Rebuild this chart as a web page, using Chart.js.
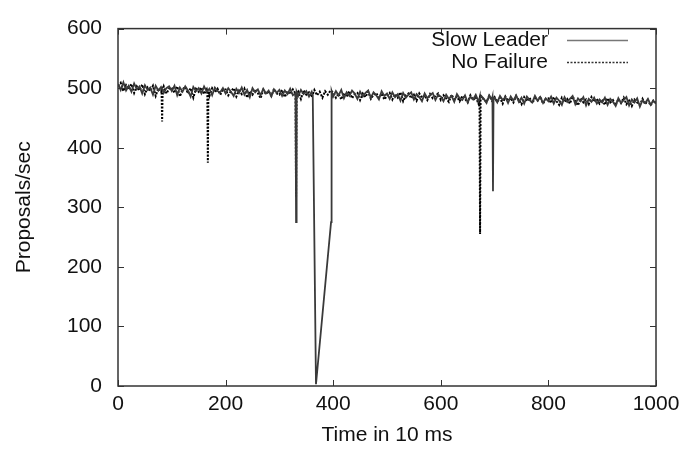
<!DOCTYPE html>
<html>
<head>
<meta charset="utf-8">
<script src="https://cdn.jsdelivr.net/npm/chart.js@4.4.1/dist/chart.umd.min.js"></script>
<style>
  body { margin: 0; background: #fff; }
</style>
</head>
<body>
<canvas id="chart" width="686" height="450"></canvas>
<script>
// sampled every 5 time units (0..1000), null = no sample there
var sampleStep = 5;

var slowLeaderRate = [
  507, 497, 510, 496, 504, 494, 508, 498, 503, 491, 505, 497, 501, 489, 504, 496, 502, 492, 500, 503,
  495, 504, 488, 501, 494, 503, 496, 486, 502, 495, 500, 491, 503, 494, 499, 488, 501, 495, 493, 500,
  491, 500, 494, 487, 499, 492, 501, 489, 497, 485, 500, 493, 498, 488, 499, 491, 496, 486, 498, 492,
  497, 487, 496, 490, 499, 488, 492, 487, 497, 490, 495, 486, 494, null, null, null, null, null, null, null,
  486, 495, 488, 497, 483, 493, 487, 496, 491, 482, 494, 486, 492, 496, 484, 493, 488, 481, 495, 487,
  491, 482, 493, 485, 490, 479, 492, 484, 489, 493, 481, 490, 485, 478, 491, 483, 488, 492, 480, 489,
  486, 478, 489, 482, 487, 477, 490, 483, 480, 488, 476, 486, 481, 489, 478, 487, 482, 475, 488, 481,
  484, 476, 487, 480, 485, 475, 486, 479, 488, 477, 484, 474, 486, 480, 476, 487, 479, 485, 475, 483,
  478, 486, 474, 484, 479, 472, 485, 477, 482, 487, 473, 483, 478, 485, 471, 482, 477, 484, 474, 481,
  476, 484, 472, 482, 477, 470, 483, 475, 480, 485, 471, 481, 476, 483, 469, 480, 475, 482, 472, 479,
  474
];
var slowLeaderDipTime = [331, 332, 361, 362, 368, 396, 397, 696, 697, 698];
var slowLeaderDipRate = [275, 494, 490, 487, 3, 275, 495, 485, 327, 484];

var noFailureRate = [
  504, 509, 495, 505, 498, 507, 492, 503, 496, 506, 490, 501, 495, 504, 487, 500, 494, 503, 491, 499,
  501, 492, 503, 486, 498, 502, 491, 500, 484, 499, 494, 501, 490, 498, 487, 500, 493, 499, 489, 497,
  498, 488, 495, 500, 486, 496, 490, 499, 484, 495, 489, 498, 492, 483, 497, 490, 495, 487, 499, 491,
  489, 497, 485, 495, 490, 498, 491, 494, 482, 496, 489, 493, 485, 497, 488, 494, 484, 495, 489, 496,
  493, 484, 491, 481, 492, 486, 495, 483, 490, 492, 480, 491, 485, 494, 482, 489, 492, 484, 491, 481,
  487, 492, 481, 490, 484, 493, 478, 488, 491, 483, 489, 479, 491, 484, 488, 480, 490, 483, 487, 491,
  480, 488, 483, 477, 489, 481, 486, 478, 487, 482, 476, 488, 480, 485, 474, 486, 481, 477, 487, 479,
  485, 477, 484, 474, 486, 479, 483, 476, 487, 480, 473, 485, 478, 484, 475, 483, 479, 486, 474, 482,
  483, 475, 485, 478, 472, 484, 477, 482, 474, 486, 478, 471, 483, 476, 481, 473, 485, 477, 482, 474,
  481, 472, 483, 476, 480, 471, 482, 475, 484, 473, 479, 470, 481, 476, 472, 482, 473, 480, 471, 479,
  475
];
var noFailureDipTime = [81, 82, 83, 166, 167, 168, 331, 332, 672, 673, 674];
var noFailureDipRate = [496, 444, 497, 494, 375, 495, 318, 490, 482, 255, 481];

var xTicks = [0, 200, 400, 600, 800, 1000];
var yTicks = [0, 100, 200, 300, 400, 500, 600];
var seriesNames = ['Slow Leader', 'No Failure'];

function buildPoints(rates, dipTimes, dipRates) {
  var pts = [];
  for (var i = 0; i < rates.length; i++) {
    if (rates[i] !== null) pts.push({x: i * sampleStep, y: rates[i]});
  }
  for (var j = 0; j < dipTimes.length; j++) {
    pts.push({x: dipTimes[j], y: dipRates[j]});
  }
  pts.sort(function(a, b) { return a.x - b.x; });
  return pts;
}

var FONT = 'Liberation Sans, Arial, sans-serif';

// box, inward ticks and key like the gnuplot original
var framePlugin = {
  id: 'frame',
  afterDraw: function(chart) {
    var ctx = chart.ctx;
    var a = chart.chartArea;
    var xs = chart.scales.x, ys = chart.scales.y;
    ctx.save();
    ctx.strokeStyle = '#333';
    ctx.lineWidth = 1.5;
    ctx.strokeRect(a.left, a.top, a.right - a.left, a.bottom - a.top);
    ctx.lineWidth = 1;
    ctx.beginPath();
    xTicks.forEach(function(v) {
      var px = Math.round(xs.getPixelForValue(v)) + 0.5;
      ctx.moveTo(px, a.bottom); ctx.lineTo(px, a.bottom - 6);
      ctx.moveTo(px, a.top); ctx.lineTo(px, a.top + 6);
    });
    yTicks.forEach(function(v) {
      var py = Math.round(ys.getPixelForValue(v)) + 0.5;
      ctx.moveTo(a.left, py); ctx.lineTo(a.left + 6, py);
      ctx.moveTo(a.right, py); ctx.lineTo(a.right - 6, py);
    });
    ctx.stroke();

    // key
    ctx.font = '21px ' + FONT;
    ctx.textAlign = 'right';
    ctx.textBaseline = 'middle';
    chart.data.datasets.forEach(function(ds, i) {
      var y = 40 + i * 22;
      ctx.fillStyle = '#111';
      ctx.fillText(ds.label, 548, y);
      ctx.strokeStyle = i === 0 ? '#777' : '#333';
      ctx.lineWidth = 1.5;
      ctx.setLineDash(ds.borderDash || []);
      ctx.beginPath();
      ctx.moveTo(567, y + 0.5);
      ctx.lineTo(628, y + 0.5);
      ctx.stroke();
      ctx.setLineDash([]);
    });
    ctx.restore();
  }
};

function plainTick(v) { return String(v); }

var chart = new Chart(document.getElementById('chart').getContext('2d'), {
  type: 'line',
  data: {
    datasets: [
      {
        label: seriesNames[0],
        data: buildPoints(slowLeaderRate, slowLeaderDipTime, slowLeaderDipRate),
        borderColor: '#3a3a3a',
        borderWidth: 1.8,
        pointRadius: 0,
        tension: 0,
        fill: false
      },
      {
        label: seriesNames[1],
        data: buildPoints(noFailureRate, noFailureDipTime, noFailureDipRate),
        borderColor: '#000',
        borderWidth: 2,
        borderDash: [2, 1.5],
        pointRadius: 0,
        tension: 0,
        fill: false
      }
    ]
  },
  options: {
    responsive: false,
    animation: false,
    devicePixelRatio: 1,
    layout: { padding: { top: 24, right: 30, bottom: 0, left: 0 } },
    plugins: { legend: { display: false }, tooltip: { enabled: false } },
    scales: {
      x: {
        type: 'linear',
        min: 0, max: 1000,
        afterBuildTicks: function(s) { s.ticks = xTicks.map(function(v) { return {value: v}; }); },
        afterFit: function(s) { s.height = 64; },
        grid: { drawOnChartArea: false, drawTicks: false },
        border: { display: false },
        ticks: { padding: 6, color: '#111', font: { family: FONT, size: 21 }, maxRotation: 0, callback: plainTick },
        title: { display: true, text: 'Time in 10 ms', color: '#111', font: { family: FONT, size: 21 }, padding: { top: 0, bottom: 2 } }
      },
      y: {
        min: 0, max: 600,
        afterBuildTicks: function(s) { s.ticks = yTicks.map(function(v) { return {value: v}; }); },
        afterFit: function(s) { s.width = 118; },
        grid: { drawOnChartArea: false, drawTicks: false },
        border: { display: false },
        ticks: { padding: 16, color: '#111', font: { family: FONT, size: 21 }, callback: plainTick },
        title: { display: true, text: 'Proposals/sec', color: '#111', font: { family: FONT, size: 21 }, padding: { top: 12, bottom: 0 } }
      }
    }
  },
  plugins: [framePlugin]
});
</script>
</body>
</html>
